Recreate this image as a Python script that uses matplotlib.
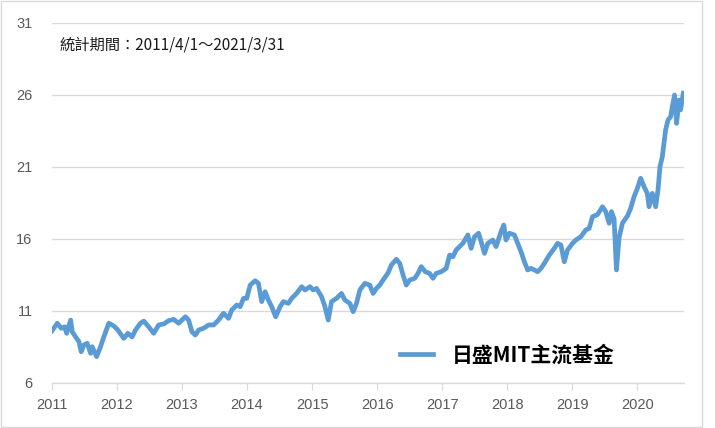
import matplotlib
matplotlib.use("Agg")
import matplotlib.pyplot as plt
from matplotlib.patches import Rectangle

# fund NAV (decimal year, value)
years = [
    2011.00, 2011.081, 2011.143, 2011.195, 2011.225, 2011.287, 2011.311, 2011.363, 2011.414, 2011.449,
    2011.491, 2011.541, 2011.594, 2011.618, 2011.686, 2011.747, 2011.798, 2011.874, 2011.951, 2012.012,
    2012.104, 2012.166, 2012.232, 2012.284, 2012.360, 2012.411, 2012.488, 2012.564, 2012.641, 2012.718,
    2012.794, 2012.871, 2012.948, 2013.051, 2013.101, 2013.152, 2013.204, 2013.255, 2013.331, 2013.408,
    2013.485, 2013.561, 2013.638, 2013.715, 2013.765, 2013.842, 2013.894, 2013.945, 2013.995, 2014.048,
    2014.124, 2014.175, 2014.225, 2014.278, 2014.328, 2014.379, 2014.440, 2014.508, 2014.558, 2014.635,
    2014.686, 2014.762, 2014.839, 2014.891, 2014.968, 2015.018, 2015.069, 2015.146, 2015.198, 2015.248,
    2015.299, 2015.376, 2015.452, 2015.505, 2015.581, 2015.632, 2015.683, 2015.735, 2015.811, 2015.888,
    2015.939, 2015.989, 2016.041, 2016.092, 2016.169, 2016.219, 2016.296, 2016.348, 2016.399, 2016.449,
    2016.502, 2016.578, 2016.629, 2016.679, 2016.741, 2016.808, 2016.859, 2016.909, 2016.986, 2017.063,
    2017.115, 2017.166, 2017.216, 2017.268, 2017.319, 2017.396, 2017.446, 2017.498, 2017.560, 2017.600,
    2017.652, 2017.702, 2017.779, 2017.830, 2017.906, 2017.948, 2017.983, 2018.035, 2018.112, 2018.163,
    2018.213, 2018.265, 2018.316, 2018.367, 2018.419, 2018.469, 2018.520, 2018.572, 2018.649, 2018.725,
    2018.776, 2018.827, 2018.879, 2018.929, 2019.006, 2019.057, 2019.133, 2019.210, 2019.262, 2019.313,
    2019.390, 2019.466, 2019.517, 2019.569, 2019.604, 2019.645, 2019.681, 2019.722, 2019.773, 2019.850,
    2019.900, 2019.952, 2020.003, 2020.054, 2020.106, 2020.156, 2020.182, 2020.233, 2020.284, 2020.320,
    2020.351, 2020.387, 2020.437, 2020.474, 2020.514, 2020.540, 2020.575, 2020.606, 2020.643, 2020.667,
    2020.709,
]
nav = [
    9.63, 10.15, 9.80, 9.90, 9.45, 10.37, 9.56, 9.20, 8.87, 8.17,
    8.64, 8.76, 8.06, 8.52, 7.83, 8.52, 9.22, 10.15, 9.96, 9.68,
    9.10, 9.45, 9.20, 9.68, 10.15, 10.30, 9.90, 9.45, 10.03, 10.10,
    10.33, 10.42, 10.15, 10.60, 10.37, 9.56, 9.33, 9.68, 9.80, 10.03,
    10.03, 10.37, 10.84, 10.49, 11.07, 11.42, 11.30, 11.88, 11.88, 12.80,
    13.10, 12.92, 11.65, 12.34, 11.76, 11.30, 10.60, 11.30, 11.65, 11.53,
    11.88, 12.22, 12.69, 12.46, 12.69, 12.46, 12.57, 11.99, 11.30, 10.37,
    11.65, 11.88, 12.22, 11.76, 11.53, 10.95, 11.53, 12.46, 12.92, 12.80,
    12.22, 12.57, 12.80, 13.15, 13.65, 14.19, 14.59, 14.31, 13.50, 12.80,
    13.15, 13.27, 13.61, 14.08, 13.73, 13.61, 13.27, 13.61, 13.73, 13.96,
    14.89, 14.77, 15.24, 15.47, 15.70, 16.28, 15.35, 16.16, 16.40, 15.81,
    15.00, 15.70, 15.93, 15.47, 16.51, 16.97, 15.93, 16.40, 16.28, 15.70,
    15.12, 14.42, 13.85, 13.96, 13.85, 13.73, 13.96, 14.31, 14.89, 15.35,
    15.70, 15.58, 14.42, 15.24, 15.70, 15.93, 16.16, 16.63, 16.74, 17.55,
    17.70, 18.24, 17.90, 17.09, 17.90, 17.40, 13.85, 16.10, 17.10, 17.60,
    18.13, 18.94, 19.52, 20.22, 19.63, 19.17, 18.24, 19.17, 18.24, 19.40,
    21.04, 21.72, 23.57, 24.26, 24.49, 25.19, 26.00, 24.03, 25.65, 24.96,
    26.12,
]
year_ticks = list(range(2011, 2021))
value_ticks = [6, 11, 16, 21, 26, 31]
series_name = "日盛MIT主流基金"
period_note = "統計期間：2011/4/1～2021/3/31"

plt.rcParams["font.family"] = ["Liberation Sans", "DejaVu Sans"]
cjk = ["Noto Sans CJK TC", "DejaVu Sans"]

fig = plt.figure(figsize=(7.15, 4.28), dpi=100)
ax = fig.add_axes([52 / 715, 1 - 383 / 428, (684 - 52) / 715, (383 - 23) / 428])

line, = ax.plot(years, nav, color="#5B9BD5", linewidth=3.4,
                solid_joinstyle="round", label=series_name, zorder=3)

ax.set_xlim(2011, 2020.72)
ax.set_ylim(6, 31)
ax.set_xticks(year_ticks)
ax.set_xticklabels([str(y) for y in year_ticks])
ax.set_yticks(value_ticks)

grid_c = "#d9d9d9"
ax.grid(axis="y", color=grid_c, linewidth=1.0)
ax.set_axisbelow(True)
for s in ["top", "right", "left"]:
    ax.spines[s].set_visible(False)
ax.spines["bottom"].set_color(grid_c)
ax.spines["bottom"].set_linewidth(1.0)

ax.tick_params(axis="x", colors="#595959", labelsize=10.5, length=5,
               direction="out", color=grid_c, pad=6)
ax.tick_params(axis="y", colors="#595959", labelsize=10.5, length=0, pad=14)

fig.text(60 / 715, 1 - 45 / 428, period_note, family=cjk, fontsize=11,
         color="#1a1a1a", va="center", ha="left")

fig.legend(handles=[line], loc="center left",
           bbox_to_anchor=(400 / 715, 1 - 355 / 428), bbox_transform=fig.transFigure,
           frameon=False, borderpad=0, borderaxespad=0, handlelength=1.6,
           handletextpad=0.9, prop={"family": cjk, "size": 15, "weight": "bold"})

fig.patches.append(Rectangle((1 / 715, 1 / 428), 701 / 715, 426 / 428,
                             transform=fig.transFigure, fill=False,
                             edgecolor=grid_c, linewidth=1.0))

fig.savefig("out.png", dpi=100)
